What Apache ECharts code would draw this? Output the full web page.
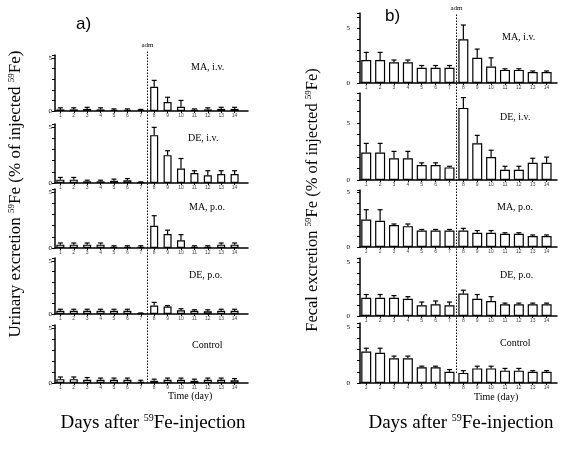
<!DOCTYPE html>
<html>
<head>
<meta charset="utf-8">
<script src="https://cdn.jsdelivr.net/npm/echarts@6/dist/echarts.min.js"></script>
<style>
html, body { margin: 0; padding: 0; background: #fff; }
#chart { width: 586px; height: 459px; }
</style>
</head>
<body>
<div id="chart"></div>
<script>
var days = [1, 2, 3, 4, 5, 6, 7, 8, 9, 10, 11, 12, 13, 14];
var dayLabels = ['1', '2', '3', '4', '5', '6', '7', '8', '9', '10', '11', '12', '13', '14'];
var groupNames = ['MA, i.v.', 'DE, i.v.', 'MA, p.o.', 'DE, p.o.', 'Control'];

// a) urinary excretion, mean and top of error bar
var urMAiv = [0.15, 0.15, 0.2, 0.15, 0.1, 0.1, 0.1, 2.3, 0.85, 0.4, 0.1, 0.15, 0.2, 0.2];
var urMAivErr = [0.3, 0.3, 0.35, 0.3, 0.2, 0.2, 0.15, 2.9, 1.3, 1.0, 0.2, 0.3, 0.35, 0.35];
var urDEiv = [0.3, 0.3, 0.15, 0.15, 0.2, 0.25, 0.05, 4.3, 2.5, 1.3, 0.9, 0.7, 0.8, 0.8];
var urDEivErr = [0.5, 0.5, 0.25, 0.25, 0.35, 0.4, 0.1, 5.0, 2.9, 2.2, 1.1, 1.1, 1.1, 1.1];
var urMApo = [0.3, 0.3, 0.3, 0.3, 0.1, 0.1, 0.1, 2.0, 1.25, 0.7, 0.1, 0.1, 0.3, 0.3];
var urMApoErr = [0.45, 0.45, 0.45, 0.45, 0.2, 0.2, 0.2, 2.9, 1.6, 1.2, 0.2, 0.2, 0.45, 0.45];
var urDEpo = [0.3, 0.3, 0.3, 0.3, 0.3, 0.3, 0.05, 0.8, 0.7, 0.35, 0.3, 0.25, 0.3, 0.3];
var urDEpoErr = [0.45, 0.45, 0.45, 0.45, 0.45, 0.45, 0.1, 1.1, 0.8, 0.5, 0.4, 0.4, 0.45, 0.45];
var urCtrl = [0.35, 0.35, 0.3, 0.3, 0.3, 0.3, 0.1, 0.2, 0.3, 0.3, 0.2, 0.3, 0.3, 0.25];
var urCtrlErr = [0.55, 0.55, 0.5, 0.45, 0.45, 0.45, 0.25, 0.35, 0.45, 0.45, 0.35, 0.45, 0.45, 0.4];

// b) fecal excretion
var feMAiv = [2.1, 2.1, 1.9, 1.9, 1.4, 1.4, 1.4, 4.0, 2.3, 1.5, 1.2, 1.2, 1.0, 1.0];
var feMAivErr = [2.8, 2.8, 2.1, 2.1, 1.6, 1.6, 1.6, 5.3, 3.1, 2.3, 1.3, 1.3, 1.1, 1.1];
var feDEiv = [2.4, 2.4, 1.9, 1.9, 1.3, 1.3, 1.1, 6.3, 3.2, 2.0, 0.9, 0.9, 1.5, 1.5];
var feDEivErr = [3.2, 3.2, 2.5, 2.5, 1.5, 1.5, 1.2, 7.2, 3.9, 2.6, 1.2, 1.2, 1.9, 2.0];
var feMApo = [2.5, 2.4, 2.0, 1.9, 1.5, 1.5, 1.5, 1.5, 1.3, 1.3, 1.2, 1.2, 1.0, 1.0];
var feMApoErr = [3.4, 3.4, 2.1, 2.1, 1.6, 1.6, 1.6, 1.7, 1.5, 1.5, 1.3, 1.3, 1.1, 1.1];
var feDEpo = [1.7, 1.7, 1.7, 1.6, 1.0, 1.1, 1.0, 2.1, 1.6, 1.4, 1.1, 1.1, 1.1, 1.1];
var feDEpoErr = [2.0, 2.0, 1.9, 1.8, 1.3, 1.4, 1.3, 2.4, 2.0, 1.8, 1.2, 1.2, 1.2, 1.2];
var feCtrl = [2.8, 2.7, 2.2, 2.2, 1.4, 1.4, 1.0, 0.9, 1.3, 1.3, 1.1, 1.1, 1.0, 1.0];
var feCtrlErr = [3.1, 3.1, 2.4, 2.4, 1.5, 1.5, 1.2, 1.1, 1.5, 1.5, 1.3, 1.3, 1.1, 1.1];

var admDay = 7.5;

var serif = '"Liberation Serif", "DejaVu Serif", serif';
var sans = '"Liberation Sans", Arial, sans-serif';

// layout of the sub plots: [top, height, yMax]
var panelA = {
	left: 55, right: 338, xMin: 0.6, xMax: 15, barWidth: 8, labelMargin: 3,
	rows: [[55, 56, 5.3], [124, 59, 5.3], [189, 59, 5.3], [258, 56, 5.3], [325, 58, 5.3]],
	means: [urMAiv, urDEiv, urMApo, urDEpo, urCtrl],
	errs: [urMAivErr, urDEivErr, urMApoErr, urDEpoErr, urCtrlErr],
	lineTop: 50, lineBottom: 76,
	nameX: [186, 183, 184, 184, 187],
	nameY: [57, 128, 197, 265, 335]
};
var panelB = {
	left: 360, right: 29, xMin: 0.55, xMax: 14.75, barWidth: 10, labelMargin: 10,
	rows: [[13, 70, 6.4], [93, 87, 7.6], [190, 57, 5.2], [258, 58, 5.4], [323, 60, 5.35]],
	means: [feMAiv, feDEiv, feMApo, feDEpo, feCtrl],
	errs: [feMAivErr, feDEivErr, feMApoErr, feDEpoErr, feCtrlErr],
	lineTop: 13, lineBottom: 86,
	nameX: [497, 495, 492, 495, 495],
	nameY: [27, 107, 197, 265, 333]
};

var grids = [], xAxes = [], yAxes = [], series = [], titles = [];

function errorItem(params, api) {
	var x = api.value(0);
	var p0 = api.coord([x, api.value(1)]);
	var p1 = api.coord([x, api.value(2)]);
	var cap = 2.5;
	return {
		type: 'group',
		children: [
			{ type: 'line', shape: { x1: p0[0], y1: p0[1], x2: p1[0], y2: p1[1] }, style: { stroke: '#000', lineWidth: 1.2 } },
			{ type: 'line', shape: { x1: p1[0] - cap, y1: p1[1], x2: p1[0] + cap, y2: p1[1] }, style: { stroke: '#000', lineWidth: 1.2 } }
		]
	};
}

function each(arr, fn) {
	for (var i = 0; i < arr.length; i++) fn(i, arr[i]);
}

function addPanel(panel) {
	each(panel.rows, function(r, row) {
		var idx = grids.length;
		grids.push({ left: panel.left, right: panel.right, top: row[0], height: row[1] });
		xAxes.push({
			type: 'value', gridIndex: idx, min: panel.xMin, max: panel.xMax,
			axisLine: { lineStyle: { color: '#000', width: 1.5 } },
			splitLine: { show: false },
			axisTick: { show: true, customValues: days, length: 2, lineStyle: { color: '#000' } },
			axisLabel: { customValues: days, fontSize: 5, color: '#444', margin: 2,
				formatter: function(v) { return dayLabels[days.indexOf(v)] || ''; } }
		});
		yAxes.push({
			type: 'value', gridIndex: idx, min: 0, max: row[2], interval: 1,
			axisLine: { show: true, lineStyle: { color: '#000', width: 1.5 } },
			splitLine: { show: false },
			axisTick: { show: true, length: 3, lineStyle: { color: '#000' } },
			axisLabel: { fontSize: 7, color: '#000', fontFamily: serif, margin: panel.labelMargin,
				formatter: function(v) { return (v === 0 || v === 5) ? String(v) : ''; } }
		});
		var meanData = [], errData = [];
		each(days, function(i, d) {
			meanData.push([d, panel.means[r][i]]);
			errData.push([d, panel.means[r][i], panel.errs[r][i]]);
		});
		series.push({
			type: 'bar', xAxisIndex: idx, yAxisIndex: idx, data: meanData,
			barWidth: panel.barWidth, silent: true,
			itemStyle: { color: '#fff', borderColor: '#000', borderWidth: 1.2 }
		});
		series.push({
			type: 'custom', xAxisIndex: idx, yAxisIndex: idx, data: errData,
			renderItem: errorItem, silent: true, z: 3
		});
		titles.push({
			text: groupNames[r], left: panel.nameX[r], top: panel.nameY[r],
			textStyle: { fontSize: 10, fontWeight: 'normal', fontFamily: serif, color: '#000' }
		});
	});

	// overlay grid holding the dotted "adm" line across all rows
	var o = grids.length;
	grids.push({ left: panel.left, right: panel.right, top: panel.lineTop, bottom: panel.lineBottom });
	xAxes.push({ type: 'value', gridIndex: o, min: panel.xMin, max: panel.xMax, show: false });
	yAxes.push({ type: 'value', gridIndex: o, min: 0, max: 1, show: false });
	series.push({
		type: 'scatter', xAxisIndex: o, yAxisIndex: o, data: [[admDay, 0]], symbolSize: 0, silent: true,
		markLine: {
			silent: true, symbol: 'none', animation: false,
			lineStyle: { color: '#000', type: [1.5, 1.5], width: 1 },
			label: { show: true, position: 'end', formatter: 'adm', fontSize: 7, fontFamily: serif, color: '#000', distance: 1 },
			data: [{ xAxis: admDay }]
		}
	});
}

addPanel(panelA);
addPanel(panelB);

function supRich(size) {
	return {
		t: { fontSize: size, fontFamily: serif, color: '#000' },
		s: { fontSize: Math.round(size * 0.55), fontFamily: serif, color: '#000', verticalAlign: 'top', padding: [0, 0, Math.round(size * 0.55), 0] }
	};
}

var option = {
	animation: false,
	title: titles,
	grid: grids,
	xAxis: xAxes,
	yAxis: yAxes,
	series: series,
	graphic: [
		{ type: 'text', left: 76, top: 16, style: { text: 'a)', fontSize: 17, fontFamily: sans, fill: '#000' } },
		{ type: 'text', left: 385, top: 8, style: { text: 'b)', fontSize: 17, fontFamily: sans, fill: '#000' } },
		{ type: 'text', left: 168, top: 391, style: { text: 'Time (day)', fontSize: 10, fontFamily: serif, fill: '#000' } },
		{ type: 'text', left: 474, top: 392, style: { text: 'Time (day)', fontSize: 10, fontFamily: serif, fill: '#000' } },
		{ type: 'text', x: 153, y: 423, style: { text: '{t|Days after }{s|59}{t|Fe-injection}', rich: supRich(19), align: 'center', verticalAlign: 'middle' } },
		{ type: 'text', x: 461, y: 423, style: { text: '{t|Days after }{s|59}{t|Fe-injection}', rich: supRich(19), align: 'center', verticalAlign: 'middle' } },
		{ type: 'text', x: 16, y: 194, rotation: Math.PI / 2,
			style: { text: '{t|Urinary excretion }{s|59}{t|Fe (% of injected }{s|59}{t|Fe)}', rich: supRich(17), align: 'center', verticalAlign: 'middle' } },
		{ type: 'text', x: 313, y: 200, rotation: Math.PI / 2,
			style: { text: '{t|Fecal excretion }{s|59}{t|Fe (% of injected }{s|59}{t|Fe)}', rich: supRich(16.5), align: 'center', verticalAlign: 'middle' } }
	]
};

var chart = echarts.init(document.getElementById('chart'));
chart.setOption(option);
</script>
</body>
</html>
